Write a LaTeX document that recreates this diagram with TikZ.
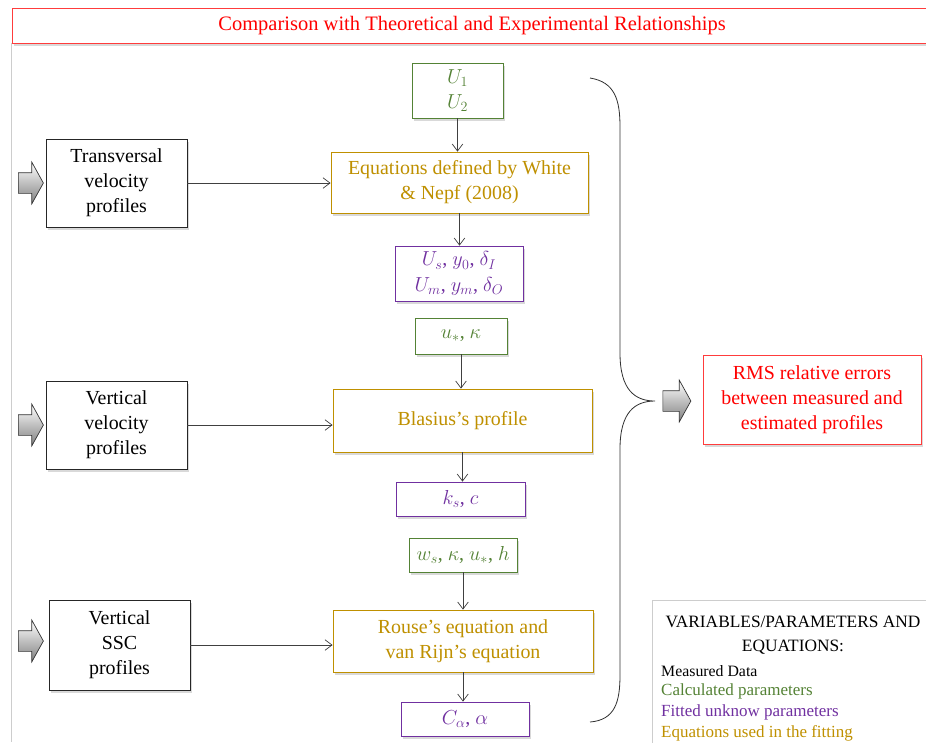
\documentclass[tikz,border=0pt]{standalone}
\usepackage{fontspec}
\setmainfont{Liberation Serif}
\usetikzlibrary{arrows.meta,positioning,shapes.arrows,shadows}
\definecolor{CalcGreen}{RGB}{84,130,53}
\definecolor{FitPurple}{RGB}{112,48,160}
\definecolor{EqGold}{RGB}{191,144,0}
\definecolor{TitleRed}{RGB}{255,0,0}
\definecolor{EdgeRed}{RGB}{255,60,60}
\definecolor{FrameGray}{RGB}{205,205,205}
\tikzset{
  box/.style={fill=white,align=center,inner sep=0pt,
    font=\fontsize{17}{21.5}\selectfont,
    drop shadow={shadow xshift=2pt,shadow yshift=-2.5pt,opacity=0.3}},
  databox/.style={box,draw=black!85,line width=0.7pt,
    minimum width=4.23cm,minimum height=2.64cm},
  calcbox/.style={box,draw=CalcGreen,text=CalcGreen,line width=0.7pt},
  fitbox/.style={box,draw=FitPurple,text=FitPurple,line width=0.7pt},
  eqbox/.style={box,draw=EqGold,text=EqGold,line width=0.7pt},
  redbox/.style={box,draw=EdgeRed,text=TitleRed,line width=0.8pt},
  inarrow/.style={single arrow,draw=black!80,line width=0.6pt,
    top color=white,bottom color=black!50,inner xsep=0pt,inner ysep=0.3cm,
    minimum height=0.75cm,single arrow head extend=0.315cm,
    single arrow tip angle=122},
  flow/.style={-{Straight Barb[length=6pt,width=9pt]},line width=0.6pt,black!75},
  legend/.style={anchor=west,inner sep=0pt,font=\fontsize{14.5}{17}\selectfont}
}
\begin{document}
\begin{tikzpicture}[x=0.03cm,y=-0.03cm]
  \useasboundingbox (0,0) rectangle (926,742);
  % outer frame and title
  \draw[FrameGray,line width=0.8pt] (11,43) -- (11,742);
  \node[redbox,minimum width=27.6cm,minimum height=1.05cm,
    font=\fontsize{17.5}{21}\selectfont] (title) at (472,25.5)
    {Comparison with Theoretical and Experimental Relationships};

  % measured data
  \node[databox] (trans) at (116.5,183) {Transversal\\velocity\\profiles};
  \node[databox] (vvel) at (116.5,425) {Vertical\\velocity\\profiles};
  \node[databox,minimum height=2.7cm] (ssc) at (119.5,645) {Vertical\\SSC\\profiles};
  \node[inarrow] (intrans) at (28,183) {};
  \node[inarrow] (invvel) at (28,425) {};
  \node[inarrow] (inssc) at (28,641) {};

  % first fitting block
  \node[calcbox,minimum width=2.73cm,minimum height=1.65cm] (uone) at (457.5,90.5)
    {$U_1$\\$U_2$};
  \node[eqbox,minimum width=7.71cm,minimum height=1.83cm] (white) at (459.5,182.5)
    {Equations defined by White\\\& Nepf (2008)};
  \node[fitbox,minimum width=3.84cm,minimum height=1.65cm] (mixing) at (459,273.5)
    {$U_s$, $y_0$, $\delta_I$\\$U_m$, $y_m$, $\delta_O$};

  % second fitting block
  \node[calcbox,minimum width=2.76cm,minimum height=1.08cm] (ustar) at (461,336)
    {$u_*$, $\kappa$};
  \node[eqbox,minimum width=7.77cm,minimum height=1.89cm] (blasius) at (462.5,420.5)
    {Blasius's profile};
  \node[fitbox,minimum width=3.87cm,minimum height=1.02cm] (rough) at (460.5,499)
    {$k_s$, $c$};

  % third fitting block
  \node[calcbox,minimum width=3.24cm,minimum height=1.02cm] (settle) at (463,555)
    {$w_s$, $\kappa$, $u_*$, $h$};
  \node[eqbox,minimum width=7.8cm,minimum height=1.86cm] (rouse) at (463,641)
    {Rouse's equation and\\van Rijn's equation};
  \node[fitbox,minimum width=3.84cm,minimum height=1.02cm] (conc) at (465,719)
    {$C_\alpha$, $\alpha$};

  % result
  \node[redbox,minimum width=6.54cm,minimum height=2.67cm] (rms) at (812,399.5)
    {RMS relative errors\\between measured and\\estimated profiles};
  \node[inarrow,minimum height=0.84cm] (inrms) at (674,401) {};

  % connectors
  \draw[flow] (trans.east) -- (trans.east -| white.west);
  \draw[flow] (vvel.east) -- (vvel.east -| blasius.west);
  \draw[flow] (ssc.east) -- (ssc.east -| rouse.west);
  \draw[flow] (uone.south) -- (uone.south |- white.north);
  \draw[flow] (white.south) -- (white.south |- mixing.north);
  \draw[flow] (ustar.south) -- (ustar.south |- blasius.north);
  \draw[flow] (blasius.south) -- (blasius.south |- rough.north);
  \draw[flow] (settle.south) -- (settle.south |- rouse.north);
  \draw[flow] (rouse.south) -- (rouse.south |- conc.north);

  % brace
  \coordinate (bracetop) at (590,78);
  \coordinate (bracetip) at (655,401);
  \coordinate (bracebot) at (590,722);
  \draw[black!80,line width=0.7pt] (bracetop)
    .. controls (615,82) and (620,100) .. (620,127) -- (620,353)
    .. controls (620,390) and (635,401) .. (bracetip)
    .. controls (635,401) and (620,412) .. (620,449) -- (620,675)
    .. controls (620,702) and (615,720) .. (bracebot);

  % legend
  \draw[FrameGray,line width=0.8pt] (652,760) -- (652,600) -- (940,600);
  \node[align=center,inner sep=0pt,font=\fontsize{14.8}{20}\selectfont] (legtitle)
    at (793,635) {VARIABLES/PARAMETERS AND\\EQUATIONS:};
  \node[legend,font=\fontsize{13.5}{16}\selectfont] (legdata) at (661,671) {Measured Data};
  \node[legend,text=CalcGreen] (legcalc) at (661,691) {Calculated parameters};
  \node[legend,text=FitPurple] (legfit) at (661,712) {Fitted unknow parameters};
  \node[legend,text=EqGold] (legeq) at (661,733) {Equations used in the fitting};
\end{tikzpicture}
\end{document}
